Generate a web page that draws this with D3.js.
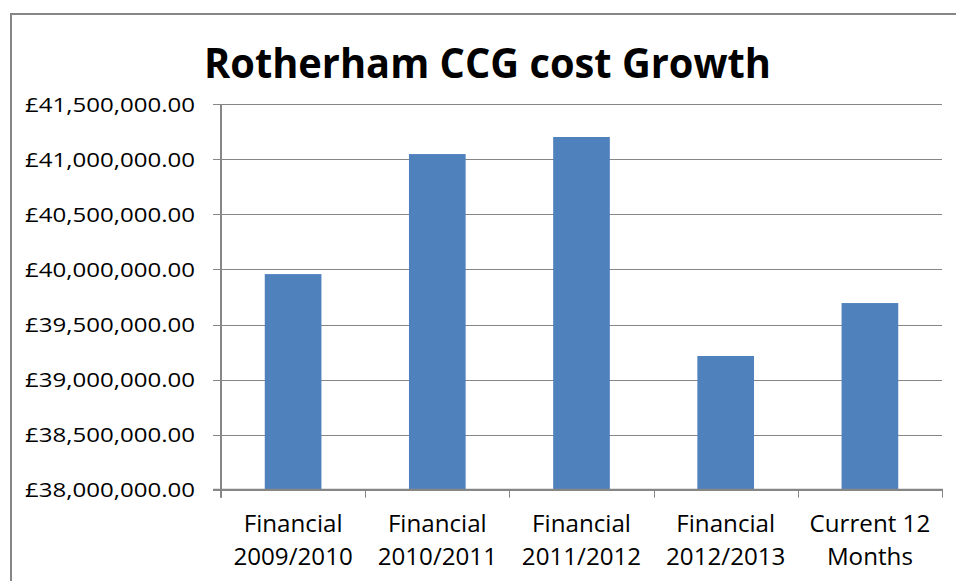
<!DOCTYPE html>
<html>
<head>
<meta charset="utf-8">
<script src="https://cdn.jsdelivr.net/npm/d3@7"></script>
<style>
	body { margin: 0; background: #fff; }
	text { font-family: "Open Sans", "Noto Sans", sans-serif; fill: #000; }
</style>
</head>
<body>
<svg width="956" height="581"></svg>
<script>
// The data
const categories = ["Financial 2009/2010", "Financial 2010/2011", "Financial 2011/2012", "Financial 2012/2013", "Current 12 Months"]
const labelLines = [["Financial", "2009/2010"], ["Financial", "2010/2011"], ["Financial", "2011/2012"], ["Financial", "2012/2013"], ["Current 12", "Months"]]
const costs = [39958000, 41048000, 41203000, 39214000, 39695000]
const yTicks = [38000000, 38500000, 39000000, 39500000, 40000000, 40500000, 41000000, 41500000]
const title = "Rotherham CCG cost Growth"

const svg = d3.select("svg"),
	width = +svg.attr("width"),
	height = +svg.attr("height");

const gridColor = "#868686"
const margin = { left: 221, right: 942, top: 104.3, bottom: 489.7 }

// stretch text horizontally to match the wider look of the original
let stretch = function (sel, factor) {
	sel.each(function () {
		const w = this.getComputedTextLength()
		this.setAttribute("textLength", w * factor)
		this.setAttribute("lengthAdjust", "spacingAndGlyphs")
	})
}

// chart frame
svg.append("path")
	.attr("d", `M11,${height + 2} V14 H${width + 2}`)
	.attr("fill", "none")
	.attr("stroke", gridColor)
	.attr("stroke-width", 2)

const x = d3.scaleBand()
	.domain(categories)
	.range([margin.left, margin.right])
	.paddingInner(0.607)
	.paddingOuter(0.3035)

const y = d3.scaleLinear()
	.domain([38000000, 41500000])
	.range([margin.bottom, margin.top])

const fmt = v => "£" + d3.format(",.2f")(v)

// gridlines + y ticks
svg.append("g")
	.selectAll("line")
	.data(yTicks)
	.join("line")
	.attr("x1", margin.left - 8)
	.attr("x2", margin.right)
	.attr("y1", d => Math.round(y(d)) + 0.5)
	.attr("y2", d => Math.round(y(d)) + 0.5)
	.attr("stroke", gridColor)
	.attr("stroke-width", 1)

const yLabels = svg.append("g")
	.selectAll("text")
	.data(yTicks)
	.join("text")
	.attr("x", 195)
	.attr("y", d => y(d) + 7.2)
	.attr("text-anchor", "end")
	.attr("font-size", 20)
	.text(fmt)
// labels all share one width in the original
yLabels.attr("textLength", 170).attr("lengthAdjust", "spacingAndGlyphs")

// bars
svg.append("g")
	.selectAll("rect")
	.data(costs)
	.join("rect")
	.attr("x", (d, i) => x(categories[i]))
	.attr("y", d => y(d))
	.attr("width", x.bandwidth())
	.attr("height", d => y(38000000) - y(d))
	.attr("fill", "#4F81BD")

// axes lines
svg.append("line")
	.attr("x1", margin.left)
	.attr("x2", margin.left)
	.attr("y1", margin.top)
	.attr("y2", margin.bottom + 8)
	.attr("stroke", gridColor)
	.attr("stroke-width", 2)

svg.append("line")
	.attr("x1", margin.left - 8)
	.attr("x2", margin.right + 1)
	.attr("y1", margin.bottom)
	.attr("y2", margin.bottom)
	.attr("stroke", gridColor)
	.attr("stroke-width", 2)

// category boundary ticks
const step = x.step()
svg.append("g")
	.selectAll("line")
	.data(d3.range(categories.length + 1))
	.join("line")
	.attr("x1", i => Math.round(margin.left + i * step) + 0.5)
	.attr("x2", i => Math.round(margin.left + i * step) + 0.5)
	.attr("y1", margin.bottom)
	.attr("y2", margin.bottom + 8)
	.attr("stroke", gridColor)
	.attr("stroke-width", 1)

// x labels
const xLabels = svg.append("g")
	.selectAll("g")
	.data(categories)
	.join("g")
	.attr("transform", d => `translate(${x(d) + x.bandwidth() / 2},0)`)

xLabels.each(function (d, i) {
	const lines = d3.select(this).selectAll("text")
		.data(labelLines[i])
		.join("text")
		.attr("x", 0)
		.attr("y", (l, j) => 532 + j * 33)
		.attr("text-anchor", "middle")
		.attr("font-size", 23)
		.text(l => l)
	stretch(lines, 1.05)
})

// title
const titleText = svg.append("text")
	.attr("x", 204)
	.attr("y", 78)
	.attr("font-size", 42)
	.attr("font-weight", "bold")
	.text(title)
titleText.attr("textLength", 567).attr("lengthAdjust", "spacingAndGlyphs")
</script>
</body>
</html>
